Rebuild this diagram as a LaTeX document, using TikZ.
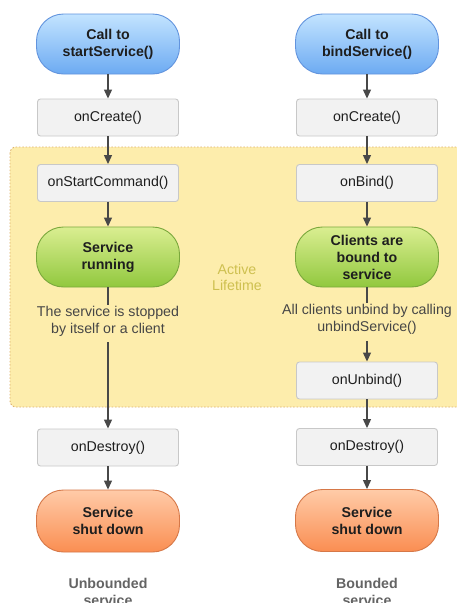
\documentclass[tikz,border=0pt]{standalone}
\usepackage{fontspec}
\setmainfont{Liberation Sans}
\usetikzlibrary{arrows.meta}
\definecolor{regionfill}{RGB}{253,237,172}
\definecolor{regionline}{RGB}{222,178,110}
\definecolor{boxfill}{RGB}{242,242,242}
\definecolor{boxline}{RGB}{200,200,200}
\definecolor{bluetop}{RGB}{195,228,255}
\definecolor{bluebot}{RGB}{108,170,242}
\definecolor{blueline}{RGB}{98,148,222}
\definecolor{greentop}{RGB}{218,238,145}
\definecolor{greenbot}{RGB}{145,200,62}
\definecolor{greenline}{RGB}{122,168,60}
\definecolor{orangetop}{RGB}{255,203,168}
\definecolor{orangebot}{RGB}{250,142,82}
\definecolor{orangeline}{RGB}{214,120,72}
\definecolor{arrowcol}{RGB}{72,72,72}
\definecolor{txt}{RGB}{30,30,30}
\definecolor{graytxt}{RGB}{70,70,70}
\definecolor{activetxt}{RGB}{206,192,80}
\definecolor{labeltxt}{RGB}{100,100,100}
\tikzset{
  basefont/.style={font=\fontsize{14.2}{17}\selectfont},
  methodbox/.style={basefont, draw=boxline, fill=boxfill, line width=0.9pt, rounded corners=3pt,
    minimum width=141pt, minimum height=37pt, inner sep=0pt, text=txt},
  pill/.style={basefont, line width=0.9pt, rounded corners=27pt, minimum width=143pt,
    minimum height=60pt, inner sep=0pt, align=center, text=txt, font=\fontsize{14.2}{17}\selectfont\bfseries},
  bluepill/.style={pill, draw=blueline, top color=bluetop, bottom color=bluebot},
  greenpill/.style={pill, draw=greenline, top color=greentop, bottom color=greenbot},
  orangepill/.style={pill, draw=orangeline, top color=orangetop, bottom color=orangebot, minimum height=62pt},
  note/.style={basefont, align=center, text=graytxt, inner sep=1pt},
  colnote/.style={align=center, text=labeltxt, font=\fontsize{14.2}{17}\selectfont\bfseries, inner sep=0pt},
  flow/.style={draw=arrowcol, line width=1.2pt, -{Triangle[length=9pt,width=8pt]}},
  plain/.style={draw=arrowcol, line width=1.2pt}
}
\begin{document}
\begin{tikzpicture}[x=1pt,y=-1pt]
\useasboundingbox (0,0) rectangle (457,603);
\clip (0,0) rectangle (457,603);
\fill[white] (0,0) rectangle (457,603);
% active lifetime region
\draw[fill=regionfill, draw=regionline, line width=0.9pt, dash pattern=on 1.5pt off 1.8pt, rounded corners=6pt]
  (10,147) rectangle (475,407);
\node[text=activetxt, align=center, font=\fontsize{14.2}{16}\selectfont, inner sep=0pt] (active) at (237,277) {Active\\Lifetime};

% left column
\node[bluepill] (lcall) at (108,44) {Call to\\startService()};
\node[methodbox] (lcreate) at (108,117.5) {onCreate()};
\node[methodbox] (lstart) at (108,183) {onStartCommand()};
\node[greenpill] (lrun) at (108,257) {Service\\running};
\node[note] (lstop) at (108,321) {The service is stopped\\by itself or a client};
\node[methodbox] (ldestroy) at (108,447.5) {onDestroy()};
\node[orangepill] (lshut) at (108,521) {Service\\shut down};
\node[colnote] (lcap) at (108,591.5) {Unbounded\\service};

% right column
\node[bluepill] (rcall) at (367,44) {Call to\\bindService()};
\node[methodbox] (rcreate) at (367,117.5) {onCreate()};
\node[methodbox] (rbind) at (367,183) {onBind()};
\node[greenpill] (rclients) at (367,257) {Clients are\\bound to\\service};
\node[note] (runbindtxt) at (367,319.5) {All clients unbind by calling\\unbindService()};
\node[methodbox] (runbind) at (367,380.5) {onUnbind()};
\node[methodbox] (rdestroy) at (367,447) {onDestroy()};
\node[orangepill] (rshut) at (367,520.5) {Service\\shut down};
\node[colnote] (rcap) at (367,591.5) {Bounded\\service};

% connectors left
\draw[flow] (lcall) -- (lcreate);
\draw[flow] (lcreate) -- (lstart);
\draw[flow] (lstart) -- (lrun);
\draw[plain] (lrun) -- (lstop);
\draw[flow, shorten <=5pt] (lstop) -- (ldestroy);
\draw[flow] (ldestroy) -- (lshut);

% connectors right
\draw[flow] (rcall) -- (rcreate);
\draw[flow] (rcreate) -- (rbind);
\draw[flow] (rbind) -- (rclients);
\draw[plain] (rclients) -- (runbindtxt);
\draw[flow, shorten <=5pt] (runbindtxt) -- (runbind);
\draw[flow] (runbind) -- (rdestroy);
\draw[flow] (rdestroy) -- (rshut);
\end{tikzpicture}
\end{document}
